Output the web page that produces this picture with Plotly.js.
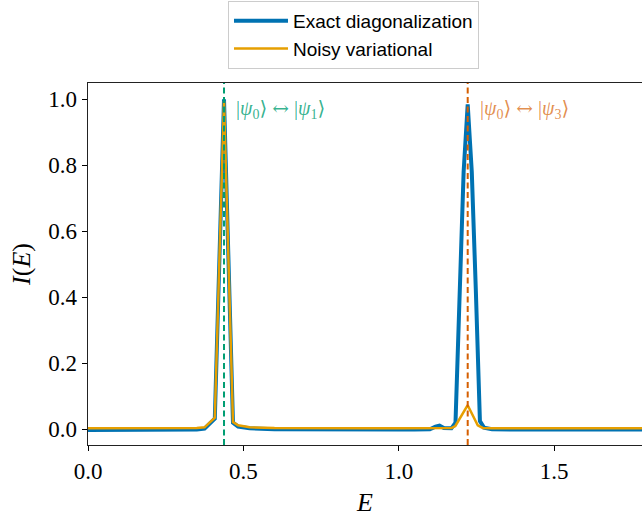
<!DOCTYPE html>
<html>
<head>
<meta charset="utf-8">
<script src="https://cdn.plot.ly/plotly-3.0.1.min.js"></script>
<style>
html,body{margin:0;padding:0;background:#fff;}
#chart{width:642px;height:517px;}
</style>
</head>
<body>
<div id="chart"></div>
<script>
// Exact diagonalization spectrum
const E_exact = [-0.01, 0.05, 0.10, 0.15, 0.20, 0.25, 0.30, 0.35, 0.375, 0.408, 0.4376, 0.4665, 0.483, 0.52, 0.60, 0.70, 0.80, 0.90, 1.00, 1.05, 1.10, 1.118, 1.131, 1.145, 1.1693, 1.1824, 1.1955, 1.2086, 1.2217, 1.2348, 1.2479, 1.261, 1.2741, 1.30, 1.40, 1.50, 1.60, 1.70, 1.80];
const I_exact = [-0.002, -0.002, -0.002, -0.002, -0.002, -0.002, -0.002, -0.001, 0.002, 0.032, 1.0, 0.02, 0.008, 0.003, 0.0, -0.001, -0.001, -0.001, -0.001, -0.001, 0.0, 0.008, 0.011, 0.004, 0.003, 0.02, 0.40, 0.78, 0.985, 0.78, 0.42, 0.025, 0.005, 0.0, -0.001, -0.001, -0.001, -0.001, -0.001];

// Noisy variational spectrum
const E_noisy = [-0.01, 0.05, 0.10, 0.15, 0.20, 0.25, 0.30, 0.35, 0.375, 0.408, 0.4376, 0.4665, 0.483, 0.52, 0.60, 0.70, 0.80, 0.90, 1.00, 1.05, 1.10, 1.131, 1.17, 1.182, 1.2217, 1.254, 1.27, 1.30, 1.40, 1.50, 1.60, 1.70, 1.80];
const I_noisy = [0.003, 0.003, 0.003, 0.003, 0.003, 0.003, 0.003, 0.004, 0.006, 0.035, 0.995, 0.022, 0.012, 0.006, 0.004, 0.003, 0.003, 0.003, 0.003, 0.003, 0.003, 0.004, 0.004, 0.01, 0.073, 0.012, 0.004, 0.003, 0.003, 0.003, 0.003, 0.003, 0.003];

// Transition energies
const transitionE = [0.4376, 1.2217];
const arrow = '<span style="font-family:\'DejaVu Serif\'">↔</span>';
const transitionLabels = ['|<i>ψ</i><sub>0</sub>⟩ ' + arrow + ' |<i>ψ</i><sub>1</sub>⟩', '|<i>ψ</i><sub>0</sub>⟩ ' + arrow + ' |<i>ψ</i><sub>3</sub>⟩'];
const transitionColors = ['#009E73', '#D55E00'];
const labelColors = ['rgba(0,158,115,0.8)', 'rgba(213,94,0,0.7)'];

const xTicks = [0.0, 0.5, 1.0, 1.5];
const yTicks = [0.0, 0.2, 0.4, 0.6, 0.8, 1.0];

const serif = '"Liberation Serif", "DejaVu Serif", serif';

const traces = [
  {x: E_exact, y: I_exact, mode: 'lines', name: 'Exact diagonalization',
   line: {color: '#0072B2', width: 4}},
  {x: E_noisy, y: I_noisy, mode: 'lines', name: 'Noisy variational',
   line: {color: '#E69F00', width: 2.5}}
];

const shapes = transitionE.map((e, i) => ({
  type: 'line', xref: 'x', yref: 'paper', x0: e, x1: e, y0: 0, y1: 1,
  line: {color: transitionColors[i], width: 2, dash: '6px,3.5px'}
}));

const annotations = transitionE.map((e, i) => ({
  x: e + 0.032, y: 0.97, xref: 'x', yref: 'y', xanchor: 'left', yanchor: 'middle',
  text: transitionLabels[i], showarrow: false,
  font: {family: serif, size: 20, color: labelColors[i]}
}));

const layout = {
  width: 642, height: 517,
  margin: {l: 88, r: 0, t: 83, b: 72, pad: 0},
  paper_bgcolor: '#fff', plot_bgcolor: '#fff',
  showlegend: true,
  legend: {
    x: 0.2527, xanchor: 'left', y: 1.2265, yanchor: 'top',
    bordercolor: '#cccccc', borderwidth: 1, bgcolor: '#fff',
    font: {family: '"Liberation Sans", Arial, sans-serif', size: 19, color: '#000'},
    itemwidth: 54,
    tracegroupgap: 0
  },
  xaxis: {
    range: [0, 1.7825], tickvals: xTicks, tickformat: '.1f',
    ticks: 'outside', ticklen: 5, tickwidth: 1, tickcolor: '#000',
    showline: true, linecolor: '#222', linewidth: 1.3, mirror: true,
    showgrid: false, zeroline: false,
    tickfont: {family: serif, size: 23, color: '#000'},
    title: {text: '<i>E</i>', font: {family: serif, size: 26, color: '#000'}, standoff: 10},
    automargin: false
  },
  yaxis: {
    range: [-0.0476, 1.0494], tickvals: yTicks, tickformat: '.1f',
    ticks: 'outside', ticklen: 5, tickwidth: 1, tickcolor: '#000',
    showline: true, linecolor: '#222', linewidth: 1.3, mirror: false,
    showgrid: false, zeroline: false,
    tickfont: {family: serif, size: 23, color: '#000'},
    title: {text: '<i>I</i>(<i>E</i>)', font: {family: serif, size: 26, color: '#000'}, standoff: 10},
    automargin: false
  },
  shapes: shapes,
  annotations: annotations
};

Plotly.newPlot('chart', traces, layout, {displayModeBar: false, staticPlot: true});
</script>
</body>
</html>
